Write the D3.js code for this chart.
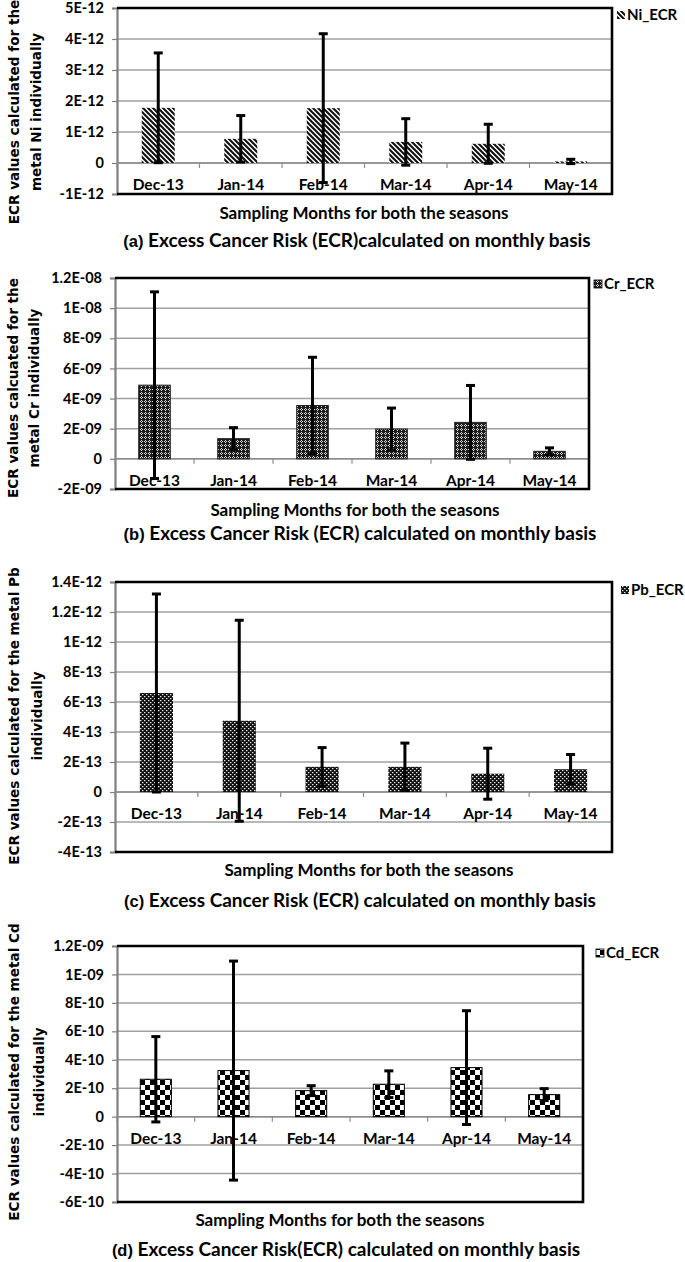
<!DOCTYPE html>
<html><head><meta charset="utf-8">
<script src="https://cdn.jsdelivr.net/npm/d3@7"></script>
<style>
html,body{margin:0;padding:0;background:#fff;}
svg{display:block;}
</style></head>
<body>
<svg id="chart" width="685" height="1262"></svg>
<script>
// ---------- DATA ----------
const months = ["Dec-13","Jan-14","Feb-14","Mar-14","Apr-14","May-14"];

const niMean = [1.78e-12, 0.78e-12, 1.77e-12, 0.68e-12, 0.62e-12, 0.05e-12];
const niSD   = [1.77e-12, 0.75e-12, 2.40e-12, 0.75e-12, 0.63e-12, 0.07e-12];
const niTicks = ["-1E-12","0","1E-12","2E-12","3E-12","4E-12","5E-12"];

const crMean = [4.89e-9, 1.34e-9, 3.54e-9, 1.98e-9, 2.42e-9, 0.50e-9];
const crSD   = [6.19e-9, 0.73e-9, 3.20e-9, 1.39e-9, 2.45e-9, 0.23e-9];
const crTicks = ["-2E-09","0","2E-09","4E-09","6E-09","8E-09","1E-08","1.2E-08"];

const pbMean = [6.60e-13, 4.75e-13, 1.68e-13, 1.68e-13, 1.22e-13, 1.52e-13];
const pbSD   = [6.60e-13, 6.70e-13, 1.28e-13, 1.58e-13, 1.70e-13, 0.98e-13];
const pbTicks = ["-4E-13","-2E-13","0","2E-13","4E-13","6E-13","8E-13","1E-12","1.2E-12","1.4E-12"];

const cdMean = [2.63e-10, 3.24e-10, 1.83e-10, 2.28e-10, 3.45e-10, 1.55e-10];
const cdSD   = [3.00e-10, 7.70e-10, 0.35e-10, 0.94e-10, 4.00e-10, 0.42e-10];
const cdTicks = ["-6E-10","-4E-10","-2E-10","0","2E-10","4E-10","6E-10","8E-10","1E-09","1.2E-09"];

const legendNames = ["Ni_ECR","Cr_ECR","Pb_ECR","Cd_ECR"];
const yTitles = [
  ["ECR values calculated for the","metal Ni individually"],
  ["ECR values calcuated for the","metal Cr individually"],
  ["ECR values calculated for the metal Pb","individually"],
  ["ECR values calculated for the metal Cd","individually"]
];
const xTitle = "Sampling Months for both the seasons";
const captionTags = ["(a)","(b)","(c)","(d)"];
const captionTexts = [
  " Excess Cancer Risk (ECR)calculated on monthly basis",
  " Excess Cancer Risk (ECR) calculated on monthly basis",
  " Excess Cancer Risk (ECR) calculated on monthly basis",
  " Excess Cancer Risk(ECR) calculated on monthly basis"
];

// ---------- LAYOUT ----------
const layout = [
  {x0:117, x1:612, yTop:8,   yBot:194,  pat:"pNi", stroke:"none", lx:617, ly:15,  t1:19, t2:41, tyc:112,  xtx:364, xty:219,  cx:357, cy:247},
  {x0:115, x1:589, yTop:278, yBot:489,  pat:"pCr", stroke:"#222", lx:594, ly:284, t1:18, t2:39, tyc:388,  xtx:355, xty:516,  cx:360, cy:540},
  {x0:115, x1:612, yTop:582, yBot:852,  pat:"pPb", stroke:"none", lx:621, ly:590, t1:19, t2:42, tyc:716,  xtx:369, xty:876,  cx:360, cy:907},
  {x0:117, x1:583, yTop:946, yBot:1202, pat:"pCd", stroke:"#000", lx:596, ly:953, t1:19, t2:44, tyc:1072, xtx:340, xty:1226, cx:346, cy:1256}
];

const series = [
  {mean:niMean, sd:niSD, ticks:niTicks},
  {mean:crMean, sd:crSD, ticks:crTicks},
  {mean:pbMean, sd:pbSD, ticks:pbTicks},
  {mean:cdMean, sd:cdSD, ticks:cdTicks}
];

const svg = d3.select("#chart");
const defs = svg.append("defs");

// Ni: diagonal hatch
{
  const p = defs.append("pattern").attr("id","pNi").attr("patternUnits","userSpaceOnUse")
    .attr("width",5).attr("height",5);
  p.append("rect").attr("width",5).attr("height",5).attr("fill","#fff");
  p.append("path").attr("d","M0,0 L5,5 M-1,4 L1,6 M4,-1 L6,1")
    .attr("stroke","#111").attr("stroke-width",2.1);
}
// Cr: dark lattice with light dots
{
  const p = defs.append("pattern").attr("id","pCr").attr("patternUnits","userSpaceOnUse")
    .attr("width",4).attr("height",4);
  p.append("rect").attr("width",4).attr("height",4).attr("fill","#1e1e1e");
  [[1,0],[0,1],[2,1],[1,2]].forEach(([x,y])=>{
    p.append("rect").attr("x",x).attr("y",y).attr("width",1).attr("height",1).attr("fill","#d8d8d8");
  });
}
// Pb: black with small white dots
{
  const p = defs.append("pattern").attr("id","pPb").attr("patternUnits","userSpaceOnUse")
    .attr("width",4).attr("height",4);
  p.append("rect").attr("width",4).attr("height",4).attr("fill","#111");
  p.append("rect").attr("x",0).attr("y",0).attr("width",1.4).attr("height",1.2).attr("fill","#e8e8e8");
  p.append("rect").attr("x",2).attr("y",2).attr("width",1.4).attr("height",1.2).attr("fill","#e8e8e8");
}
// Cd: checkerboard
{
  const p = defs.append("pattern").attr("id","pCd").attr("patternUnits","userSpaceOnUse")
    .attr("width",10).attr("height",10);
  p.append("rect").attr("width",10).attr("height",10).attr("fill","#fff");
  p.append("rect").attr("x",0).attr("y",0).attr("width",5).attr("height",5).attr("fill","#000");
  p.append("rect").attr("x",5).attr("y",5).attr("width",5).attr("height",5).attr("fill","#000");
}

const tickFont = "Lato, 'Open Sans', sans-serif";

series.forEach((s, i) => {
  const L = layout[i];
  const g = svg.append("g");
  const tickVals = s.ticks.map(Number);
  const y = d3.scaleLinear().domain([d3.min(tickVals), d3.max(tickVals)]).range([L.yBot, L.yTop]);
  const x = d3.scaleBand().domain(months).range([L.x0, L.x1]).paddingInner(0.6).paddingOuter(0.3);
  const step = x.step();

  // gridlines
  g.selectAll("line.grid").data(tickVals).join("line")
    .attr("x1", L.x0).attr("x2", L.x1)
    .attr("y1", d => y(d)).attr("y2", d => y(d))
    .attr("stroke", "#a0a0a0").attr("stroke-width", 1.5);

  // left axis
  const yAxis = d3.axisLeft(y).tickValues(tickVals).tickSize(5).tickFormat((d, k) => s.ticks[k]);
  const ya = g.append("g").attr("transform", `translate(${L.x0},0)`).call(yAxis);
  ya.select(".domain").attr("stroke", "#7f7f7f").attr("stroke-width", 2.2);
  ya.selectAll(".tick line").attr("stroke", "#7f7f7f").attr("stroke-width", 1.2);
  ya.selectAll(".tick text").attr("x", -13)
    .attr("font-family", tickFont).attr("font-weight", "bold").attr("font-size", 14.5).attr("fill", "#000");

  // category axis at zero
  const y0 = y(0);
  const cat = g.append("g").attr("transform", `translate(0,${y0})`);
  cat.append("line").attr("x1", L.x0).attr("x2", L.x1).attr("stroke", "#8c8c8c").attr("stroke-width", 1.5);
  const bounds = d3.range(months.length + 1).map(k => L.x0 + k * step);
  cat.selectAll("line.ct").data(bounds).join("line")
    .attr("x1", d => d).attr("x2", d => d).attr("y1", 0).attr("y2", 5)
    .attr("stroke", "#8c8c8c").attr("stroke-width", 1.2);
  cat.selectAll("text").data(months).join("text")
    .attr("x", d => x(d) + x.bandwidth() / 2).attr("y", 22).attr("dy", "0.35em")
    .attr("text-anchor", "middle")
    .attr("font-family", tickFont).attr("font-weight", "bold").attr("font-size", 15.5).text(d => d);

  // bars
  g.selectAll("rect.bar").data(months).join("rect")
    .attr("x", d => x(d)).attr("width", x.bandwidth())
    .attr("y", (d, k) => Math.min(y(s.mean[k]), y0))
    .attr("height", (d, k) => Math.abs(y0 - y(s.mean[k])))
    .attr("fill", `url(#${L.pat})`)
    .attr("stroke", L.stroke).attr("stroke-width", L.stroke === "none" ? 0 : 1);

  // error bars
  const eb = g.selectAll("g.eb").data(months).join("g");
  eb.append("line")
    .attr("x1", d => x(d) + x.bandwidth() / 2).attr("x2", d => x(d) + x.bandwidth() / 2)
    .attr("y1", (d, k) => y(s.mean[k] + s.sd[k])).attr("y2", (d, k) => y(s.mean[k] - s.sd[k]))
    .attr("stroke", "#000").attr("stroke-width", 3);
  [1, -1].forEach(sign => {
    eb.append("line")
      .attr("x1", d => x(d) + x.bandwidth() / 2 - 4.5).attr("x2", d => x(d) + x.bandwidth() / 2 + 4.5)
      .attr("y1", (d, k) => y(s.mean[k] + sign * s.sd[k])).attr("y2", (d, k) => y(s.mean[k] + sign * s.sd[k]))
      .attr("stroke", "#000").attr("stroke-width", 3);
  });

  // frame: top, right, bottom
  g.append("path")
    .attr("d", `M${L.x0},${L.yTop} L${L.x1},${L.yTop} L${L.x1},${L.yBot} L${L.x0},${L.yBot}`)
    .attr("fill", "none").attr("stroke", "#000").attr("stroke-width", 2.6);

  // legend
  g.append("rect").attr("x", L.lx).attr("y", L.ly - 4).attr("width", 8).attr("height", 8)
    .attr("fill", `url(#${L.pat})`).attr("stroke", L.stroke === "none" ? "none" : "#000").attr("stroke-width", 0.8);
  g.append("text").attr("x", L.lx + 10).attr("y", L.ly).attr("dy", "0.35em")
    .attr("font-family", tickFont).attr("font-weight", "bold").attr("font-size", 15)
    .text(legendNames[i]);

  // y title
  [[yTitles[i][0], L.t1], [yTitles[i][1], L.t2]].forEach(([txt, bx]) => {
    g.append("text")
      .attr("transform", `translate(${bx},${L.tyc}) rotate(-90)`)
      .attr("text-anchor", "middle")
      .attr("font-family", "'DejaVu Sans', sans-serif").attr("font-weight", "bold").attr("font-size", 13.6)
      .text(txt);
  });

  // x title
  g.append("text").attr("x", L.xtx).attr("y", L.xty).attr("text-anchor", "middle")
    .attr("font-family", tickFont).attr("font-weight", "bold").attr("font-size", 17)
    .text(xTitle);

  // caption
  const cap = g.append("text").attr("x", L.cx).attr("y", L.cy).attr("text-anchor", "middle")
    .attr("font-weight", "bold").attr("font-size", 19);
  cap.append("tspan").attr("font-family", "'Liberation Sans', Arial, sans-serif").attr("font-size", 16.5).text(captionTags[i]);
  cap.append("tspan").attr("font-family", tickFont).text(captionTexts[i]);
});
</script>
</body></html>
